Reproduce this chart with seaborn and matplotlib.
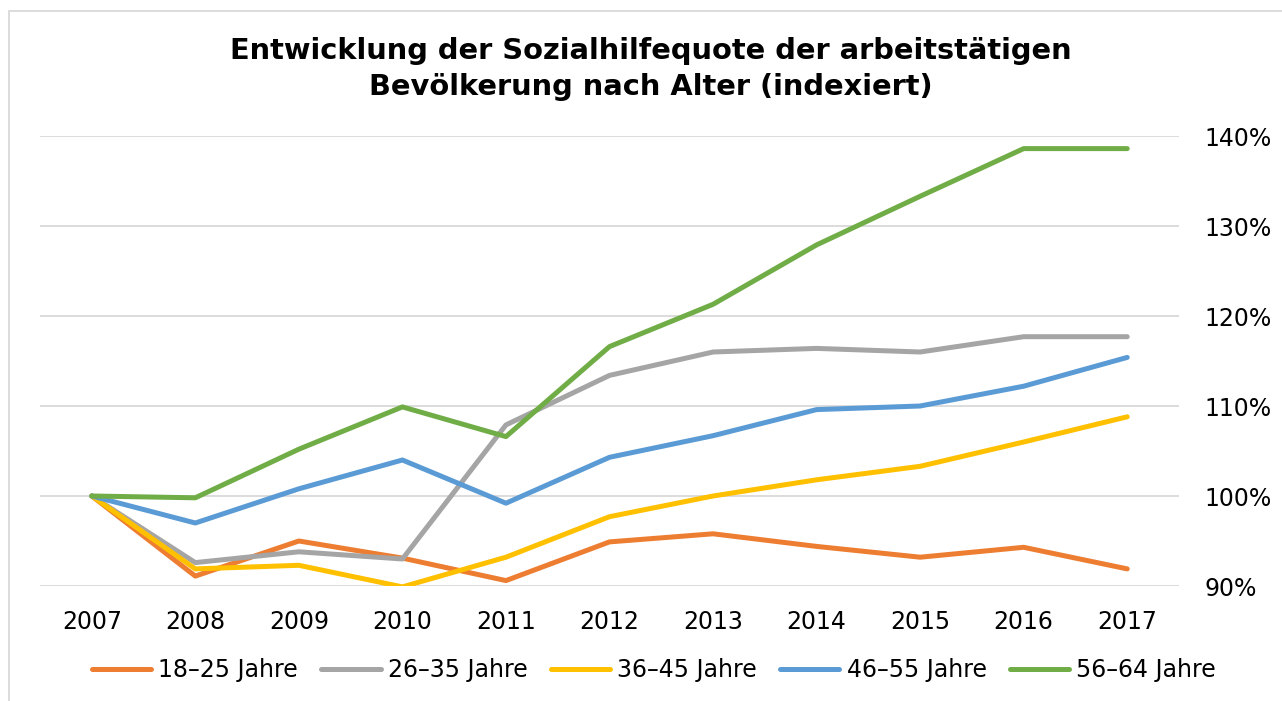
import matplotlib
matplotlib.use("Agg")
import matplotlib.pyplot as plt
from matplotlib.lines import Line2D
from matplotlib.ticker import FuncFormatter
import pandas as pd
import seaborn as sns

# values (index, 2007 = 100%)
years = ['2007', '2008', '2009', '2010', '2011', '2012',
         '2013', '2014', '2015', '2016', '2017']
age_18_25 = [100.0, 91.1, 95.0, 93.1, 90.6, 94.9, 95.8, 94.4, 93.2, 94.3, 91.9]
age_26_35 = [100.0, 92.6, 93.8, 93.0, 107.9, 113.4, 116.0, 116.4, 116.0, 117.7, 117.7]
age_36_45 = [100.0, 91.9, 92.3, 89.9, 93.2, 97.7, 100.0, 101.8, 103.3, 106.0, 108.8]
age_46_55 = [100.0, 97.0, 100.8, 104.0, 99.2, 104.3, 106.7, 109.6, 110.0, 112.2, 115.4]
age_56_64 = [100.0, 99.8, 105.2, 109.9, 106.6, 116.6, 121.3, 127.9, 133.3, 138.6, 138.6]

groups = ['18\u201325 Jahre', '26\u201335 Jahre', '36\u201345 Jahre',
          '46\u201355 Jahre', '56\u201364 Jahre']
colors = ['#ED7D31', '#A5A5A5', '#FFC000', '#5B9BD5', '#70AD47']

df = pd.DataFrame({'Jahr': years * 5,
                   'Gruppe': [g for g in groups for _ in years],
                   'Quote': age_18_25 + age_26_35 + age_36_45 + age_46_55 + age_56_64})
df['pos'] = df['Jahr'].map({y: i for i, y in enumerate(years)})

sns.set_style('white')
plt.rcParams['font.family'] = ['DejaVu Sans']
plt.rcParams['text.color'] = 'black'

fig = plt.figure(figsize=(12.82, 7.01), dpi=100)
ax = fig.add_axes([40 / 1282, 1 - 586 / 701, 1139 / 1282, 450 / 701])

sns.lineplot(data=df, x='pos', y='Quote', hue='Gruppe', hue_order=groups,
             palette=colors, linewidth=3.6, ax=ax, legend=False,
             solid_capstyle='round', sort=False)

ax.set_xlim(-0.5, 10.5)
ax.set_ylim(90, 140)
ax.set_xticks(range(len(years)))
ax.set_xticklabels(years)
ax.set_yticks([90, 100, 110, 120, 130, 140])
ax.yaxis.set_major_formatter(FuncFormatter(lambda v, p: f'{v:.0f}%'))
ax.yaxis.tick_right()
ax.tick_params(axis='both', length=0, labelsize=17, labelcolor='black')
ax.tick_params(axis='x', pad=17)
ax.tick_params(axis='y', pad=18)
for lab in ax.get_yticklabels():
    lab.set_horizontalalignment('left')
ax.grid(axis='y', color='#D9D9D9', linewidth=1.3)
ax.set_axisbelow(True)
for s in ax.spines.values():
    s.set_visible(False)
ax.set_xlabel('')
ax.set_ylabel('')

fig.text(651 / 1282, 1 - 69 / 701,
         'Entwicklung der Sozialhilfequote der arbeitst\u00e4tigen\nBev\u00f6lkerung nach Alter (indexiert)',
         ha='center', va='center', fontsize=20.8, fontweight='heavy',
         color='black', linespacing=1.35)

handles = [Line2D([0], [0], color=c, linewidth=3.6, solid_capstyle='round') for c in colors]
fig.legend(handles, groups, loc='center', bbox_to_anchor=(654 / 1282, 1 - 670 / 701),
           ncol=5, frameon=False, fontsize=17, handlelength=2.5,
           handletextpad=0.3, columnspacing=1.0, labelcolor='black')

# chart border (top and left visible in the crop)
fig.add_artist(Line2D([9 / 1282, 9 / 1282], [0, 1 - 11 / 701], color='#D9D9D9', linewidth=1.3))
fig.add_artist(Line2D([9 / 1282, 1], [1 - 11 / 701, 1 - 11 / 701], color='#D9D9D9', linewidth=1.3))

fig.savefig('out.png', dpi=100)
